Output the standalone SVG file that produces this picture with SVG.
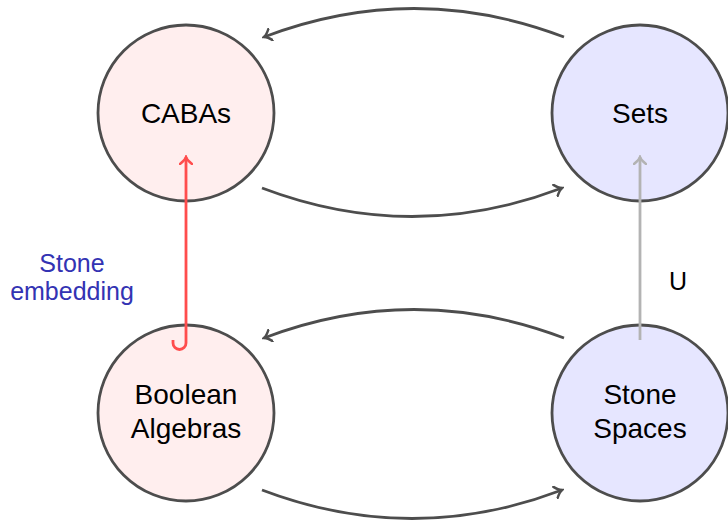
<svg xmlns="http://www.w3.org/2000/svg" width="728" height="522" viewBox="0 0 728 522">
  <defs>
    <marker id="headDark" viewBox="-8 -7 10 14" markerWidth="10" markerHeight="14" markerUnits="userSpaceOnUse" refX="0" refY="0" orient="auto">
      <path d="M-7,-6 Q-3,-1 0,0 Q-3,1 -7,6" fill="none" stroke="#4d4d4d" stroke-width="2.4" stroke-linecap="round"/>
    </marker>
    <marker id="headRed" viewBox="-8 -7 10 14" markerWidth="10" markerHeight="14" markerUnits="userSpaceOnUse" refX="0" refY="0" orient="auto">
      <path d="M-7,-6 Q-3,-1 0,0 Q-3,1 -7,6" fill="none" stroke="#ff4d4d" stroke-width="2.4" stroke-linecap="round"/>
    </marker>
    <marker id="headGray" viewBox="-8 -7 10 14" markerWidth="10" markerHeight="14" markerUnits="userSpaceOnUse" refX="0" refY="0" orient="auto">
      <path d="M-7,-6 Q-3,-1 0,0 Q-3,1 -7,6" fill="none" stroke="#b3b3b3" stroke-width="2.4" stroke-linecap="round"/>
    </marker>
  </defs>
  <style>
    .node { stroke: #4d4d4d; stroke-width: 2.8; }
    .pink { fill: #ffeeee; }
    .blue { fill: #e6e6ff; }
    .lbl { font-family: "Liberation Sans", "DejaVu Sans", sans-serif; font-size: 28px; fill: #000; text-anchor: middle; }
    .edge { fill: none; stroke: #4d4d4d; stroke-width: 2.8; marker-end: url(#headDark); }
    .side { font-family: "Liberation Sans", "DejaVu Sans", sans-serif; font-size: 25px; text-anchor: middle; }
  </style>

  <g id="cabas">
    <circle class="node pink" cx="186" cy="113" r="88"/>
    <text class="lbl" x="186" y="123">CABAs</text>
  </g>
  <g id="sets">
    <circle class="node blue" cx="640" cy="113" r="88"/>
    <text class="lbl" x="640" y="123">Sets</text>
  </g>
  <g id="boolean-algebras">
    <circle class="node pink" cx="186" cy="413" r="88"/>
    <text class="lbl" x="186" y="404">Boolean</text>
    <text class="lbl" x="186" y="438">Algebras</text>
  </g>
  <g id="stone-spaces">
    <circle class="node blue" cx="640" cy="413" r="88"/>
    <text class="lbl" x="640" y="404">Stone</text>
    <text class="lbl" x="640" y="438">Spaces</text>
  </g>

  <g id="connectors">
    <path class="edge" d="M564,37 Q414,-20 264,37"/>
    <path class="edge" d="M262,188 Q412,245 562,188"/>
    <path class="edge" d="M564,338 Q414,281 264,338"/>
    <path class="edge" d="M262,490 Q412,547 562,490"/>
    <path d="M173,340 L173,343 A6.5,6.5 0 0 0 186,343 L186,157" fill="none" stroke="#ff4d4d" stroke-width="2.8" marker-end="url(#headRed)"/>
    <path d="M640,340 L640,157" fill="none" stroke="#b3b3b3" stroke-width="2.8" marker-end="url(#headGray)"/>
    <text class="side" x="72" y="272" fill="#3333b3">Stone</text>
    <text class="side" x="72" y="300" fill="#3333b3">embedding</text>
    <text class="side" x="678" y="290" fill="#000">U</text>
  </g>
</svg>
